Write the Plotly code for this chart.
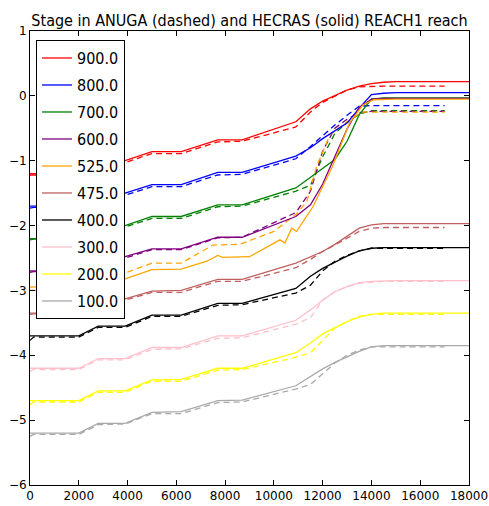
import plotly.graph_objects as go

# ---------------- data ----------------
labels = ["900.0", "800.0", "700.0", "600.0", "525.0", "475.0", "400.0", "300.0", "200.0", "100.0"]
colors = ["#ff0000", "#0000ff", "#008000", "#800080", "#ffa500", "#c06060", "#000000", "#ffc0cb", "#ffff00", "#a9a9a9"]

# HECRAS (solid) common chainage
x_hec = [0, 2000, 2800, 3900, 5000, 6200, 7700, 8700, 10900, 11500, 12000, 12500, 13000, 13500, 14000, 14500, 15000, 18000]
hec_900 = [-1.2, -1.2, -1.05, -1.0, -0.86, -0.86, -0.68, -0.68, -0.40, -0.20, -0.08, 0.0, 0.09, 0.15, 0.19, 0.21, 0.22, 0.22]
hec_800 = [-1.7, -1.7, -1.56, -1.50, -1.37, -1.37, -1.18, -1.18, -0.93, -0.80, -0.66, -0.54, -0.42, -0.19, 0.02, 0.04, 0.05, 0.05]
hec_700 = [-2.2, -2.2, -2.05, -2.0, -1.86, -1.86, -1.68, -1.68, -1.42, -1.25, -1.12, -0.98, -0.70, -0.29, -0.05, -0.03, -0.03, -0.03]
hec_600 = [-2.7, -2.7, -2.55, -2.48, -2.36, -2.36, -2.18, -2.18, -1.86, -1.68, -1.36, -0.93, -0.51, -0.18, -0.05, -0.04, -0.04, -0.04]
hec_475 = [-3.35, -3.35, -3.2, -3.13, -3.01, -3.0, -2.83, -2.83, -2.58, -2.48, -2.40, -2.29, -2.16, -2.04, -1.99, -1.97, -1.97, -1.97]
hec_400 = [-3.7, -3.7, -3.55, -3.55, -3.38, -3.38, -3.2, -3.2, -2.97, -2.78, -2.66, -2.56, -2.47, -2.39, -2.35, -2.34, -2.34, -2.34]
hec_300 = [-4.2, -4.2, -4.05, -4.05, -3.88, -3.88, -3.7, -3.7, -3.46, -3.30, -3.15, -3.02, -2.94, -2.88, -2.86, -2.85, -2.85, -2.85]
hec_200 = [-4.7, -4.7, -4.55, -4.55, -4.38, -4.37, -4.2, -4.2, -3.96, -3.81, -3.67, -3.57, -3.48, -3.41, -3.37, -3.35, -3.35, -3.35]
hec_100 = [-5.2, -5.2, -5.05, -5.05, -4.88, -4.87, -4.7, -4.69, -4.47, -4.33, -4.21, -4.11, -4.02, -3.94, -3.87, -3.85, -3.85, -3.85]

# 525 solid has its own wiggly profile
x_hec_525 = [0, 2000, 2800, 3900, 5000, 6200, 7250, 7700, 7900, 9000, 10250, 10450, 10730, 10930, 11600, 12400, 13100, 13650, 14100, 15000, 18000]
hec_525 = [-3.0, -3.0, -2.85, -2.82, -2.68, -2.67, -2.55, -2.46, -2.49, -2.48, -2.22, -2.27, -2.04, -2.09, -1.71, -1.09, -0.42, -0.14, -0.06, -0.05, -0.05]

# ANUGA (dashed) common chainage
x_anu = [0, 150, 2000, 2800, 3900, 5000, 6200, 7700, 8700, 10900, 11500, 12000, 12500, 13000, 13500, 14000, 14500, 17000]
anu_900 = [-1.22, -1.22, -1.22, -1.07, -1.03, -0.89, -0.89, -0.71, -0.70, -0.48, -0.25, -0.10, 0.0, 0.09, 0.14, 0.15, 0.15, 0.15]
anu_800 = [-1.73, -1.72, -1.72, -1.58, -1.53, -1.40, -1.40, -1.22, -1.21, -0.97, -0.78, -0.61, -0.45, -0.30, -0.16, -0.15, -0.15, -0.15]
anu_700 = [-2.22, -2.21, -2.21, -2.07, -2.02, -1.89, -1.89, -1.71, -1.70, -1.47, -1.38, -0.94, -0.58, -0.41, -0.28, -0.23, -0.23, -0.23]
anu_600 = [-2.72, -2.71, -2.71, -2.56, -2.50, -2.37, -2.37, -2.19, -2.18, -1.80, -1.47, -0.85, -0.50, -0.36, -0.26, -0.24, -0.24, -0.24]
anu_475 = [-3.37, -3.36, -3.36, -3.22, -3.15, -3.03, -3.03, -2.86, -2.86, -2.65, -2.52, -2.40, -2.30, -2.19, -2.09, -2.04, -2.03, -2.03]
anu_400 = [-3.77, -3.72, -3.72, -3.57, -3.57, -3.40, -3.40, -3.23, -3.22, -3.04, -2.92, -2.70, -2.55, -2.46, -2.39, -2.35, -2.35, -2.35]
anu_300 = [-4.25, -4.22, -4.22, -4.07, -4.07, -3.91, -3.90, -3.74, -3.73, -3.52, -3.42, -3.15, -3.02, -2.94, -2.89, -2.87, -2.86, -2.86]
anu_200 = [-4.76, -4.72, -4.72, -4.57, -4.57, -4.40, -4.40, -4.23, -4.22, -4.03, -3.96, -3.77, -3.58, -3.48, -3.40, -3.37, -3.37, -3.37]
anu_100 = [-5.25, -5.22, -5.22, -5.07, -5.06, -4.90, -4.90, -4.73, -4.72, -4.52, -4.45, -4.28, -4.12, -4.00, -3.92, -3.87, -3.87, -3.87]

x_anu_525 = [0, 2000, 2800, 3900, 5000, 6200, 7500, 8600, 10000, 10900, 11350, 11750, 12300, 13000, 13600, 17000]
anu_525 = [-2.95, -2.92, -2.77, -2.73, -2.58, -2.58, -2.30, -2.29, -2.09, -1.83, -1.63, -1.09, -0.60, -0.40, -0.25, -0.25]

x_ticks = [0, 2000, 4000, 6000, 8000, 10000, 12000, 14000, 16000, 18000]
y_ticks = [-6, -5, -4, -3, -2, -1, 0, 1]

hec_series = [(x_hec, hec_900), (x_hec, hec_800), (x_hec, hec_700), (x_hec, hec_600),
              (x_hec_525, hec_525), (x_hec, hec_475), (x_hec, hec_400), (x_hec, hec_300),
              (x_hec, hec_200), (x_hec, hec_100)]
anu_series = [(x_anu, anu_900), (x_anu, anu_800), (x_anu, anu_700), (x_anu, anu_600),
              (x_anu_525, anu_525), (x_anu, anu_475), (x_anu, anu_400), (x_anu, anu_300),
              (x_anu, anu_200), (x_anu, anu_100)]

# ---------------- figure ----------------
fig = go.Figure()
for i, lab in enumerate(labels):
    ax, ay = anu_series[i]
    fig.add_trace(go.Scatter(x=ax, y=ay, mode="lines", showlegend=False, legendgroup=lab,
                             line=dict(color=colors[i], width=1.3, dash="6px,4px"),
                             hoverinfo="skip"))
for i, lab in enumerate(labels):
    hx, hy = hec_series[i]
    fig.add_trace(go.Scatter(x=hx, y=hy, mode="lines", name=lab, legendgroup=lab,
                             line=dict(color=colors[i], width=1.3)))

font_family = "DejaVu Sans"
cond_font = "DejaVu Sans Condensed, DejaVu Sans"
fig.update_layout(
    width=489, height=506,
    margin=dict(l=30, r=20, t=31, b=21, autoexpand=False),
    paper_bgcolor="white", plot_bgcolor="white",
    font=dict(family=font_family, size=12, color="black"),
    title=dict(text="Stage in ANUGA (dashed) and HECRAS (solid) REACH1 reach",
               x=0.5, xref="paper", xanchor="center",
               y=1, yref="paper", yanchor="bottom", pad=dict(b=5),
               font=dict(family=cond_font, size=16, color="black")),
    showlegend=True,
    legend=dict(x=0.0137, y=0.98, xanchor="left", yanchor="top",
                bordercolor="black", borderwidth=1, bgcolor="white",
                font=dict(family=cond_font, size=16, color="black"),
                tracegroupgap=3.2, traceorder="grouped", itemwidth=30),
)
fig.update_xaxes(range=[0, 18000], tickvals=x_ticks, ticktext=[str(v) for v in x_ticks],
                 showgrid=False, zeroline=False, showline=True, linecolor="black", linewidth=1,
                 mirror="ticks", ticks="inside", ticklen=5, tickcolor="black", automargin=False,
                 tickfont=dict(family=font_family, size=12))
fig.update_yaxes(range=[-6, 1], tickvals=y_ticks, ticktext=[("\u2212" + str(-v)) if v < 0 else str(v) for v in y_ticks],
                 showgrid=False, zeroline=False, showline=True, linecolor="black", linewidth=1,
                 mirror="ticks", ticks="inside", ticklen=5, tickcolor="black", automargin=False,
                 tickfont=dict(family=font_family, size=12))

fig.write_html("out.html", config={"displayModeBar": False},
               post_script="document.body.style.margin='0';")
